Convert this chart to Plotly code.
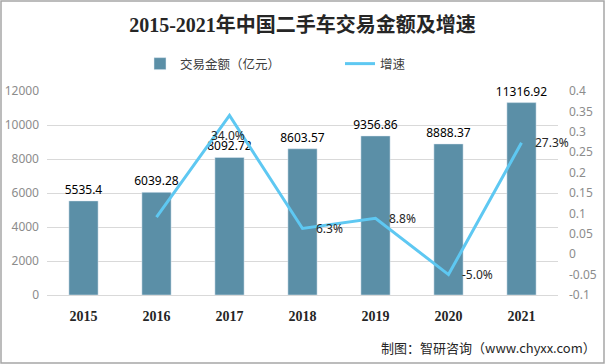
import plotly.graph_objects as go

years = ["2015", "2016", "2017", "2018", "2019", "2020", "2021"]
amount = [5535.4, 6039.28, 8092.72, 8603.57, 9356.86, 8888.37, 11316.92]
amount_labels = ["5535.4", "6039.28", "8092.72", "8603.57", "9356.86", "8888.37", "11316.92"]
growth_years = ["2016", "2017", "2018", "2019", "2020", "2021"]
growth = [0.091, 0.340, 0.063, 0.088, -0.050, 0.273]
growth_labels = ["", "34.0%", "6.3%", "8.8%", "-5.0%", "27.3%"]
left_ticks = [0, 2000, 4000, 6000, 8000, 10000, 12000]
left_ticktext = ["0", "2000", "4000", "6000", "8000", "10000", "12000"]
right_tickvals = [-0.1, -0.05, 0, 0.05, 0.1, 0.15, 0.2, 0.25, 0.3, 0.35, 0.4]
right_ticktext = ["-0.1", "-0.05", "0", "0.05", "0.1", "0.15", "0.2", "0.25", "0.3", "0.35", "0.4"]

W, H = 605, 364
ML, MR, MT, MB = 47, 47, 91, 69
PW, PH = W - ML - MR, H - MT - MB

fig = go.Figure()
fig.add_trace(go.Bar(
    x=years, y=amount, name="交易金额（亿元）",
    marker=dict(color="#5b8fa7"), width=0.4,
    text=amount_labels, textposition="outside", constraintext="none",
    textfont=dict(size=12, color="#000000", family="Noto Sans"),
    cliponaxis=False,
))
fig.add_trace(go.Scatter(
    x=growth_years, y=growth, name="增速", yaxis="y2",
    mode="lines", line=dict(color="#5ec8f2", width=3),
    cliponaxis=False,
))

for gx, gy, gl in zip(growth_years, growth, growth_labels):
    if not gl:
        continue
    peak = gy == max(growth)
    fig.add_annotation(
        x=years.index(gx), y=gy, xref="x", yref="y2", text=gl, showarrow=False,
        xanchor="center" if peak else "left",
        yanchor="middle",
        xshift=-2 if peak else 11, yshift=-20 if peak else 0,
        font=dict(size=12, color="#262626", family="Noto Sans"),
    )

fig.update_layout(
    width=W, height=H,
    margin=dict(l=ML, r=MR, t=MT, b=MB, autoexpand=False),
    paper_bgcolor="white", plot_bgcolor="white",
    font=dict(family="Noto Sans CJK SC", color="#404040"),
    title=dict(text="<b>2015-2021年中国二手车交易金额及增速</b>",
               x=0.5, xanchor="center", y=1 - 25 / H, yanchor="middle",
               font=dict(size=20, color="#262626", family="Liberation Serif, Noto Sans CJK SC")),
    showlegend=True,
    legend=dict(orientation="h", x=(140 - ML) / PW, xanchor="left",
                y=1 + (91 - 64) / PH, yanchor="middle",
                entrywidth=155, entrywidthmode="pixels",
                font=dict(size=12.5, color="#404040", family="Noto Sans CJK SC"),
                bgcolor="rgba(0,0,0,0)"),
    bargap=0.6,
    xaxis=dict(type="category", categoryorder="array", categoryarray=years,
               range=[-0.5, len(years) - 0.5],
               showgrid=False, showline=True, linecolor="#d9d9d9",
               ticks="", ticklabelstandoff=8,
               tickfont=dict(size=14, color="#262626", family="Liberation Serif"),
               tickprefix="<b>", ticksuffix="</b>"),
    yaxis=dict(range=[0, 12000], tickvals=left_ticks, ticktext=left_ticktext,
               showgrid=True, gridcolor="#d9d9d9", ticklabelstandoff=7,
               zeroline=False, showline=False, ticks="",
               tickfont=dict(size=12, color="#8c8c8c", family="Noto Sans")),
    yaxis2=dict(range=[-0.1, 0.4], overlaying="y", side="right", showgrid=False,
                zeroline=False, tickvals=right_tickvals, ticktext=right_ticktext, ticks="",
                ticklabelstandoff=10,
                tickfont=dict(size=12, color="#8c8c8c", family="Noto Sans")),
)

fig.add_shape(type="rect", xref="paper", yref="paper",
              x0=-(ML - 1) / PW, x1=1 + (MR - 1) / PW,
              y0=-(MB - 1) / PH, y1=1 + (MT - 1) / PH,
              line=dict(color="#a6a6a6", width=1.5), fillcolor="rgba(0,0,0,0)", layer="above")

fig.add_annotation(text="制图：智研咨询（www.chyxx.com）", xref="paper", yref="paper",
                   x=1 + (MR - 7) / PW, xanchor="right", y=-(347 - 295) / PH, yanchor="middle",
                   showarrow=False, font=dict(size=13, color="#262626", family="Noto Sans CJK SC"))

fig.write_html("out.html", config={"displayModeBar": False},
               post_script="document.body.style.margin='0';document.body.style.padding='0';")
